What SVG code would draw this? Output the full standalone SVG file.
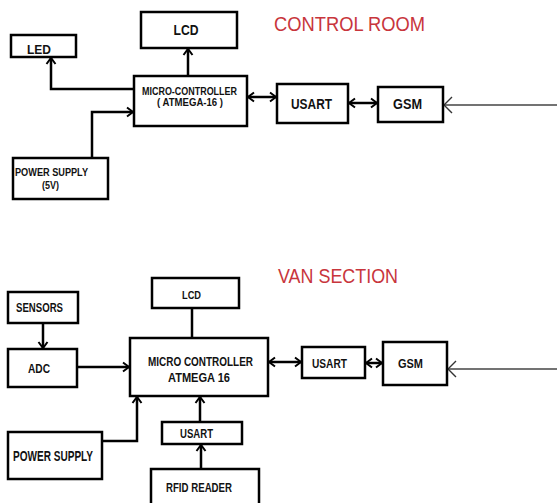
<svg xmlns="http://www.w3.org/2000/svg" width="557" height="503" viewBox="0 0 557 503">
<style>
.box{fill:#fff;stroke:#000;stroke-width:2.5}
.t{font-family:"Liberation Sans",Arial,sans-serif;font-weight:700;fill:#111;text-anchor:middle}
.title{font-family:"Liberation Sans",Arial,sans-serif;fill:#c8353c;font-size:21px}
.c{fill:none;stroke:#000;stroke-width:2.5}
.thin{fill:none;stroke:#444;stroke-width:1.5}
</style>
<defs>
<marker id="ah" markerWidth="10" markerHeight="12" refX="7.5" refY="6" orient="auto-start-reverse" markerUnits="userSpaceOnUse">
<path d="M1.5,1.5 L7.5,6 L1.5,10.5" fill="none" stroke="#000" stroke-width="2"/>
</marker>
<marker id="ahl" markerWidth="12" markerHeight="18" refX="9" refY="9" orient="auto" markerUnits="userSpaceOnUse">
<path d="M1,1 L9,9 L1,17" fill="none" stroke="#333" stroke-width="1.4"/>
</marker>
</defs>

<text class="title" x="274" y="31" textLength="151" lengthAdjust="spacingAndGlyphs">CONTROL ROOM</text>
<text class="title" x="278" y="283" textLength="120" lengthAdjust="spacingAndGlyphs">VAN SECTION</text>

<g id="connectors">
<path class="c" d="M188,76 V49" marker-end="url(#ah)"/>
<path class="c" d="M134,89 H51 V58" marker-end="url(#ah)"/>
<path class="c" d="M92,158 V112 H133" marker-end="url(#ah)"/>
<path class="c" d="M248,97 H276" marker-start="url(#ah)" marker-end="url(#ah)"/>
<path class="c" d="M349,103 H377" marker-start="url(#ah)" marker-end="url(#ah)"/>
<path class="thin" d="M557,105 H444" marker-end="url(#ahl)"/>

<path class="c" d="M43,323 V348" marker-end="url(#ah)"/>
<path class="c" d="M77,367 H129" marker-end="url(#ah)"/>
<path class="c" d="M192,308 V338"/>
<path class="c" d="M102,441 H137 V397" marker-end="url(#ah)"/>
<path class="c" d="M200,422 V397" marker-end="url(#ah)"/>
<path class="c" d="M201,469 V445" marker-end="url(#ah)"/>
<path class="c" d="M269,362 H301" marker-start="url(#ah)" marker-end="url(#ah)"/>
<path class="c" d="M366,363 H382" marker-start="url(#ah)" marker-end="url(#ah)"/>
<path class="thin" d="M557,369 H448" marker-end="url(#ahl)"/>
</g>

<g id="cr-lcd"><rect class="box" x="141" y="12" width="96" height="36"/><text class="t" x="186" y="35" font-size="14" textLength="25" lengthAdjust="spacingAndGlyphs">LCD</text></g>
<g id="cr-led"><rect class="box" x="11" y="35" width="65" height="22"/><text class="t" x="39" y="54" font-size="12.5" textLength="24" lengthAdjust="spacingAndGlyphs">LED</text></g>
<g id="cr-mcu"><rect class="box" x="134" y="76" width="113" height="50"/>
<text class="t" x="189.5" y="95" font-size="10" textLength="95" lengthAdjust="spacingAndGlyphs">MICRO-CONTROLLER</text>
<text class="t" x="190" y="106" font-size="10" textLength="66" lengthAdjust="spacingAndGlyphs">( ATMEGA-16 )</text></g>
<g id="cr-ps"><rect class="box" x="13" y="158" width="95" height="41"/>
<text class="t" x="51.5" y="176" font-size="10" textLength="73" lengthAdjust="spacingAndGlyphs">POWER SUPPLY</text>
<text class="t" x="50.5" y="189" font-size="10" textLength="17" lengthAdjust="spacingAndGlyphs">(5V)</text></g>
<g id="cr-usart"><rect class="box" x="277" y="84" width="71" height="39"/><text class="t" x="311.5" y="109" font-size="14" textLength="41" lengthAdjust="spacingAndGlyphs">USART</text></g>
<g id="cr-gsm"><rect class="box" x="378" y="87" width="65" height="35"/><text class="t" x="407.5" y="109" font-size="14" textLength="29" lengthAdjust="spacingAndGlyphs">GSM</text></g>

<g id="vs-lcd"><rect class="box" x="152" y="278" width="87" height="30"/><text class="t" x="191.5" y="299" font-size="10.5" textLength="19" lengthAdjust="spacingAndGlyphs">LCD</text></g>
<g id="vs-sensors"><rect class="box" x="8" y="292" width="70" height="31"/><text class="t" x="39.5" y="312" font-size="12.5" textLength="47" lengthAdjust="spacingAndGlyphs">SENSORS</text></g>
<g id="vs-adc"><rect class="box" x="8" y="349" width="69" height="38"/><text class="t" x="39" y="373" font-size="13" textLength="22" lengthAdjust="spacingAndGlyphs">ADC</text></g>
<g id="vs-mcu"><rect class="box" x="130" y="338" width="138" height="58"/>
<text class="t" x="200.5" y="366" font-size="12.5" textLength="105" lengthAdjust="spacingAndGlyphs">MICRO CONTROLLER</text>
<text class="t" x="199" y="382" font-size="12.5" textLength="62" lengthAdjust="spacingAndGlyphs">ATMEGA 16</text></g>
<g id="vs-ps"><rect class="box" x="8" y="432" width="94" height="47"/><text class="t" x="53" y="461" font-size="14" textLength="80" lengthAdjust="spacingAndGlyphs">POWER SUPPLY</text></g>
<g id="vs-usart-in"><rect class="box" x="162" y="422" width="80" height="22"/><text class="t" x="196.5" y="438" font-size="12.5" textLength="33" lengthAdjust="spacingAndGlyphs">USART</text></g>
<g id="vs-rfid"><rect class="box" x="151" y="469" width="108" height="40"/><text class="t" x="199" y="492" font-size="12.5" textLength="66" lengthAdjust="spacingAndGlyphs">RFID READER</text></g>
<g id="vs-usart"><rect class="box" x="302" y="347" width="63" height="31"/><text class="t" x="329.5" y="368" font-size="13" textLength="35" lengthAdjust="spacingAndGlyphs">USART</text></g>
<g id="vs-gsm"><rect class="box" x="383" y="342" width="64" height="43"/><text class="t" x="410.5" y="368" font-size="13" textLength="25" lengthAdjust="spacingAndGlyphs">GSM</text></g>
</svg>
